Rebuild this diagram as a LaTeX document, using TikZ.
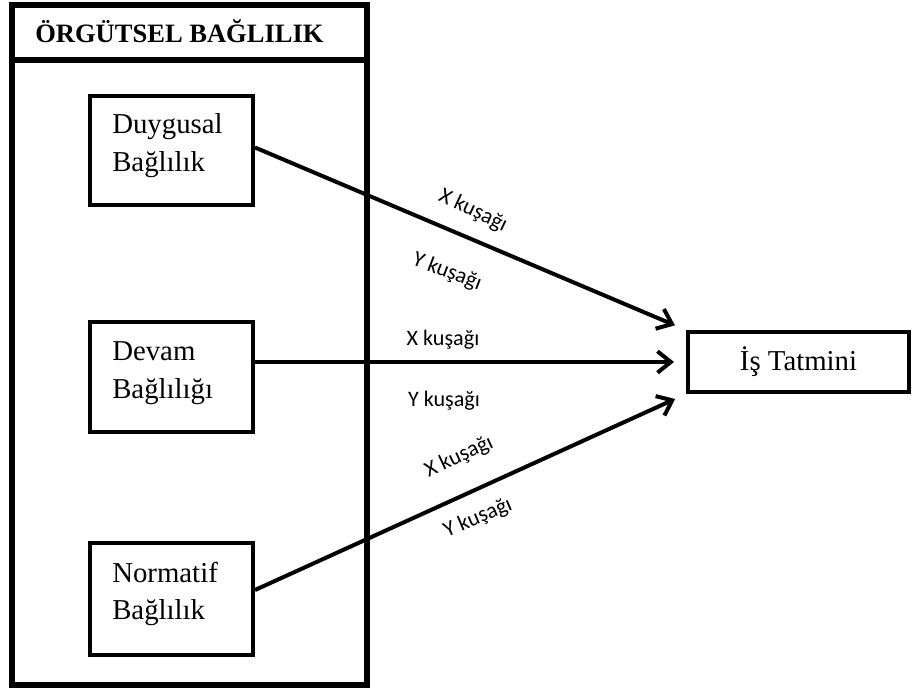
\documentclass[tikz,border=0pt]{standalone}
\usepackage{fontspec}
\setmainfont{Liberation Serif}
\newfontfamily\labelfont{Carlito}
\usetikzlibrary{arrows.meta,calc}
\begin{document}
\begin{tikzpicture}[x=0.75pt,y=-0.75pt,
  outerbox/.style={draw,line width=4.1pt,inner sep=0pt,minimum width=266.25pt},
  factor/.style={draw,line width=3pt,inner sep=0pt,minimum width=122.25pt},
  bodytext/.style={inner sep=0pt,anchor=base west,font=\fontsize{21.6}{26}\selectfont},
  titletext/.style={inner sep=0pt,anchor=base west,font=\fontsize{19.9}{24}\selectfont\bfseries},
  result/.style={draw,line width=3pt,inner sep=0pt,minimum width=165.75pt,minimum height=45pt,
    font=\fontsize{21.6}{26}\selectfont},
  link/.style={line width=3pt,-{Straight Barb[length=10pt,width=16pt]},shorten >=9pt},
  gen/.style={inner sep=0pt,font=\labelfont\fontsize{16.6}{20}\selectfont}]
\useasboundingbox (0,0) rectangle (912,691);

% outer frame with its title strip
\node[outerbox,minimum height=510pt] (frame) at (189.5,345) {};
\node[outerbox,minimum height=41.25pt] (titlebar) at (189.5,32.5) {};
\node[titletext] (title) at (35,43) {ÖRGÜTSEL BAĞLILIK};

% commitment dimensions
\node[factor,minimum height=81.75pt] (duy) at (171.5,150.5) {};
\node[bodytext] (duyA) at (112,134) {Duygusal};
\node[bodytext] (duyB) at (112,172) {Bağlılık};

\node[factor,minimum height=82.5pt] (dev) at (171.5,377) {};
\node[bodytext] (devA) at (112,360) {Devam};
\node[bodytext] (devB) at (112,398) {Bağlılığı};

\node[factor,minimum height=84pt] (nor) at (171.5,599) {};
\node[bodytext] (norA) at (112,582) {Normatif};
\node[bodytext] (norB) at (112,619) {Bağlılık};

% outcome
\node[result] (tat) at (798.5,362) {İş Tatmini};

% paths
\draw[link] ($(duy.east)+(0,-3)$) -- (tat.north west);
\draw[link] (dev.east |- tat.west) -- (tat.west);
\draw[link] ($(nor.east)+(0,-9)$) -- (tat.south west);

% generation labels
\node[gen,rotate=-25] (x1) at (473,211) {X kuşağı};
\node[gen,rotate=-21] (y1) at (447,272) {Y kuşağı};
\node[gen] (x2) at (443,340) {X kuşağı};
\node[gen] (y2) at (444,401) {Y kuşağı};
\node[gen,rotate=25] (x3) at (459,457) {X kuşağı};
\node[gen,rotate=23] (y3) at (478,518) {Y kuşağı};
\end{tikzpicture}
\end{document}
